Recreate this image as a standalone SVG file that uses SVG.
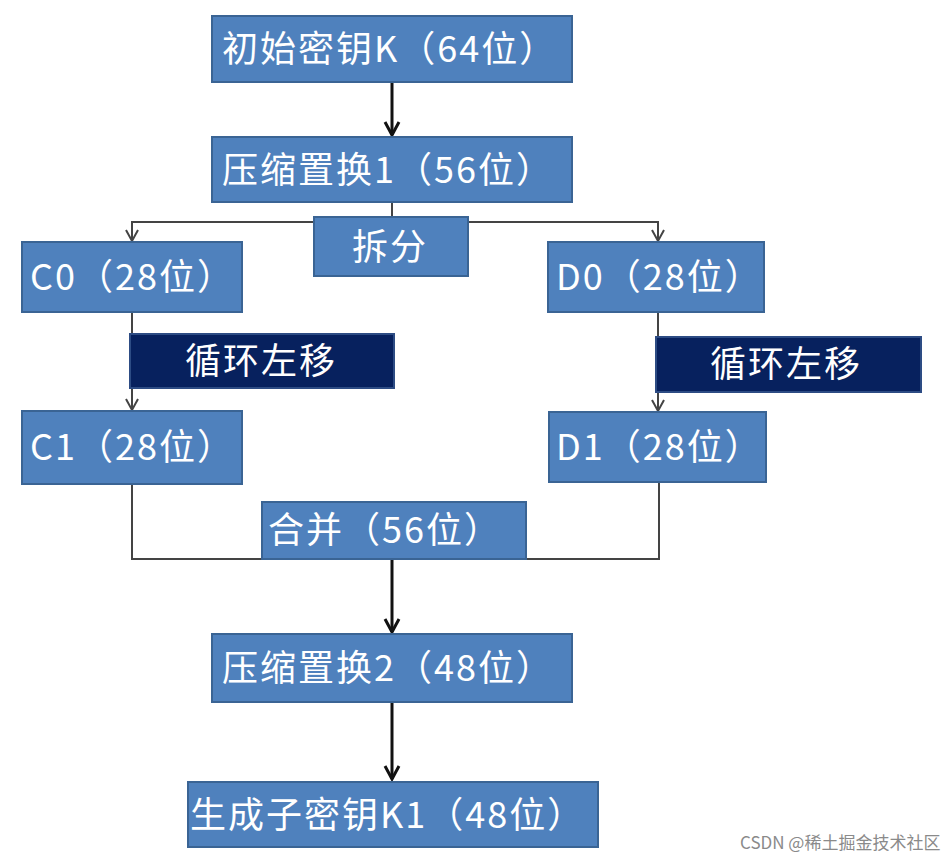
<svg xmlns="http://www.w3.org/2000/svg" width="950" height="861" viewBox="0 0 950 861">
<style>
.box{fill:#4f81bd;stroke:#3a6494;stroke-width:2}
.dark{fill:#07215e;stroke:#2d4c84;stroke-width:2}
.t{fill:#ffffff;font-family:"Noto Sans CJK SC","Noto Sans",sans-serif;font-size:36px;letter-spacing:2px}
.thick{stroke:#111;stroke-width:3;fill:none}
.thin{stroke:#444;stroke-width:2;fill:none}
.wm{fill:#8a8a8a;font-family:"Noto Sans CJK SC","Liberation Sans",sans-serif;font-size:17px}
</style>
<defs>
<marker id="ah" markerUnits="userSpaceOnUse" markerWidth="20" markerHeight="20" orient="auto" overflow="visible">
<path d="M-13,-7 L0,0 L-13,7" fill="none" stroke="#111" stroke-width="3"/>
</marker>
<marker id="as" markerUnits="userSpaceOnUse" markerWidth="20" markerHeight="20" orient="auto" overflow="visible">
<path d="M-11,-6 L0,0 L-11,6" fill="none" stroke="#444" stroke-width="2"/>
</marker>
</defs>
<g id="connectors">
<line class="thick" x1="392" y1="82" x2="392" y2="135" marker-end="url(#ah)"/>
<polyline class="thin" points="392,202 392,222"/>
<polyline class="thin" points="132,241 132,222 658,222 658,241"/>
<line class="thin" x1="132" y1="222" x2="132" y2="241" marker-end="url(#as)"/>
<line class="thin" x1="658" y1="222" x2="658" y2="241" marker-end="url(#as)"/>
<line class="thin" x1="132" y1="312" x2="132" y2="410" marker-end="url(#as)"/>
<line class="thin" x1="658" y1="312" x2="658" y2="411" marker-end="url(#as)"/>
<polyline class="thin" points="132,484 132,559 659,559 659,482"/>
<line class="thick" x1="392" y1="559" x2="392" y2="632" marker-end="url(#ah)"/>
<line class="thick" x1="392" y1="702" x2="392" y2="779" marker-end="url(#ah)"/>
</g>
<g id="n1"><rect class="box" x="212" y="16" width="360" height="66"/><text class="t" x="222" y="62">初始密钥K（64位）</text></g>
<g id="n2"><rect class="box" x="212" y="137" width="360" height="65"/><text class="t" x="222" y="183">压缩置换1（56位）</text></g>
<g id="split"><rect class="box" x="314" y="217" width="154" height="59"/><text class="t" x="352" y="260">拆分</text></g>
<g id="c0"><rect class="box" x="22" y="242" width="220" height="70"/><text class="t" x="30" y="290">C0（28位）</text></g>
<g id="d0"><rect class="box" x="548" y="242" width="216" height="70"/><text class="t" x="556" y="290">D0（28位）</text></g>
<g id="shiftL"><rect class="dark" x="130" y="334" width="264" height="54"/><text class="t" x="185" y="374">循环左移</text></g>
<g id="shiftR"><rect class="dark" x="656" y="337" width="265" height="55"/><text class="t" x="710" y="377">循环左移</text></g>
<g id="c1"><rect class="box" x="22" y="411" width="220" height="73"/><text class="t" x="30" y="460">C1（28位）</text></g>
<g id="d1"><rect class="box" x="549" y="412" width="217" height="70"/><text class="t" x="556" y="460">D1（28位）</text></g>
<g id="merge"><rect class="box" x="262" y="502" width="264" height="57"/><text class="t" x="268" y="543">合并（56位）</text></g>
<g id="n3"><rect class="box" x="212" y="634" width="360" height="68"/><text class="t" x="222" y="681">压缩置换2（48位）</text></g>
<g id="n4"><rect class="box" x="188" y="782" width="410" height="65"/><text class="t" x="190" y="828">生成子密钥K1（48位）</text></g>
<text class="wm" x="740" y="849">CSDN @稀土掘金技术社区</text>
</svg>
